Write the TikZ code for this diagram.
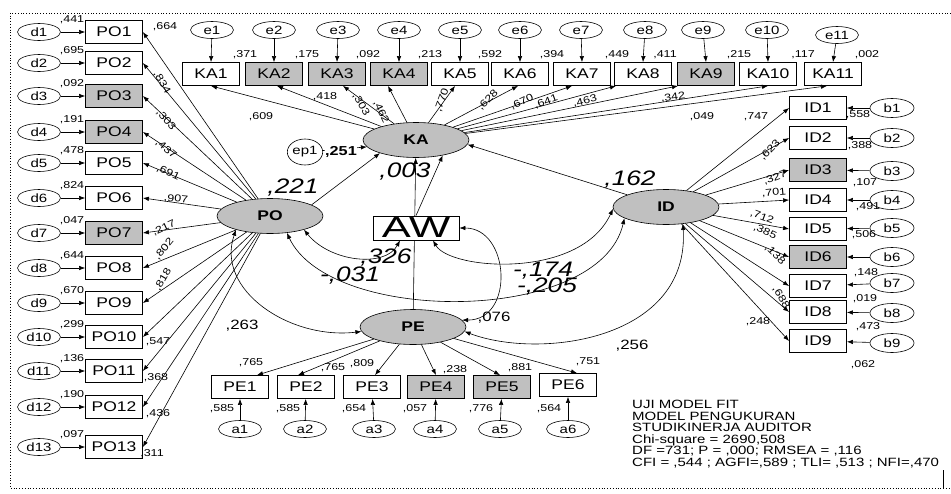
\documentclass[tikz,border=0pt]{standalone}
\usepackage{fontspec}
\setmainfont{Liberation Sans}[FakeStretch=1.25]
\newfontfamily\widefont{Liberation Sans}[FakeStretch=1.5]
\usetikzlibrary{arrows.meta,shapes.geometric}
\definecolor{shade}{RGB}{192,192,192}
\begin{document}
\begin{tikzpicture}[x=1pt,y=-1pt,
  box/.style={draw, line width=0.8pt, minimum width=57pt, minimum height=23pt, inner sep=0pt, font=\fontsize{14}{14}\selectfont},
  err/.style={draw, ellipse, line width=0.6pt, minimum width=43pt, minimum height=17pt, inner sep=0pt, font=\fontsize{12}{12}\selectfont},
  lat/.style={draw, ellipse, line width=0.6pt, fill=shade, minimum width=106pt, minimum height=35pt, inner sep=0pt, font=\bfseries\fontsize{14}{14}\selectfont},
  lab/.style={inner sep=0pt, font=\fontsize{10}{10}\selectfont},
  mid/.style={inner sep=0pt, font=\fontsize{13.5}{13.5}\selectfont},
  big/.style={inner sep=0pt, font=\itshape\fontsize{21}{21}\selectfont},
  arr/.style={-{Latex[length=6pt,width=4.5pt]}, line width=0.6pt},
  dbl/.style={{Latex[length=6pt,width=4.5pt]}-{Latex[length=6pt,width=4.5pt]}, line width=0.6pt}]
\useasboundingbox (0,0) rectangle (951,493);
\fill[white] (0,0) rectangle (951,493);

% frame
\draw[dotted, line width=0.8pt] (951,13) -- (10,13) -- (10,488) -- (951,488);
\coordinate (fa) at (943,470);
\coordinate (fb) at (943,488);
\draw[line width=0.8pt] (fa) -- (fb);

% latent variables
\node[lat] (PO) at (270,216) {PO};
\node[lat] (KA) at (416,140) {KA};
\node[lat] (ID) at (666,207) {ID};
\node[lat] (PE) at (413,327) {PE};

% PO indicators
\foreach \i/\y/\r/\f in {1/32/441/white, 2/63/695/white, 3/96/092/shade, 4/132/191/shade, 5/163/478/white, 6/198/824/white, 7/233/047/shade, 8/268/644/white, 9/303/670/white, 10/337/299/white, 11/371/136/white, 12/407/190/white, 13/447/097/white}
{
  \node[box, fill=\f] (PO\i) at (114,\y) {PO\i};
  \node[err] (d\i) at (39,\y) {d\i};
  \draw[arr] (d\i) -- (PO\i);
  \node[lab] at (72,\y-12) {,\r};
  \draw[arr] (PO) -- (PO\i.east);
}
\foreach \t/\x/\y/\a in {664/165/27/0, 834/162/83/-60, 303/166/120/-50, 437/166/149/-40, 691/168/173/-25, 907/176/199/-5, 217/164/228/25, 802/164/249/50, 818/163/280/60, 547/158/342/0, 368/156/378/0, 436/158/414/0, 311/152/454/0}
  \node[lab, rotate=\a] at (\x,\y) {,\t};

% KA indicators
\foreach \i/\x/\ex/\ey/\r/\lx/\f/\s in {1/211/212/30/371/245/white/0, 2/274/274/30/175/307/shade/3, 3/337/338/30/092/368/shade/6, 4/399/399/30/213/430/shade/-11, 5/460/460/30/592/490/white/-5, 6/520/520/30/394/552/white/-2, 7/582/581/30/449/617/white/-10, 8/643/645/30/411/665/white/-27, 9/706/703/30/215/739/shade/-28, 10/768/767/30/117/803/white/0, 11/833/837/35/002/867/white/-6}
{
  \node[box, fill=\f] (KA\i) at (\x,74) {KA\i};
  \node[err] (e\i) at (\ex,\ey) {e\i};
  \draw[arr] (e\i) -- (KA\i.north);
  \node[lab] at (\lx,55) {,\r};
  \draw[arr] (KA) -- ([xshift=\s pt]KA\i.south);
}
\foreach \t/\x/\y/\a in {609/261/117/0, 418/325/97/0, 303/361/105/-60, 462/381/112/-65, 770/442/100/70, 628/488/100/45, 670/522/102/25, 641/546/102/20, 463/585/101/15, 342/673/97/8, 049/702/117/0}
  \node[lab, rotate=\a] at (\x,\y) {,\t};

% ID indicators
\foreach \i/\y/\by/\r/\rx/\ry/\f in {1/108/108/558/858/115/white, 2/138/138/388/860/146/white, 3/170/171/107/865/183/shade, 4/200/200/491/868/207/white, 5/229/228/506/864/235/white, 6/257/257/148/866/273/shade, 7/286/283/019/865/299/white, 8/312/313/473/868/327/white, 9/341/343/062/863/365/white}
{
  \node[box, fill=\f] (ID\i) at (818,\y) {ID\i};
  \node[err, minimum width=44pt, minimum height=19pt] (b\i) at (892,\by) {b\i};
  \draw[arr] (b\i) -- (ID\i);
  \node[lab] at (\rx,\ry) {,\r};
  \draw[arr] (ID) -- (ID\i.west);
}
\foreach \t/\x/\y/\a in {747/756/117/0, 623/770/150/45, 327/775/178/20, 701/774/193/5, 712/762/217/-20, 385/765/232/-25, 138/775/255/-45, 688/781/298/-60, 248/758/322/0}
  \node[lab, rotate=\a] at (\x,\y) {,\t};

% PE indicators
\foreach \i/\x/\y/\ax/\l/\lx/\ly/\r/\rx/\f/\s in {1/240/387/240/765/251/363/585/222/white/17, 2/306/387/305/765/333/368/585/288/white/-8, 3/372/387/374/809/362/364/654/354/white/3, 4/436/387/435/238/455/370/057/415/shade/0, 5/502/387/500/881/520/368/776/481/shade/-2, 6/568/385/568/751/588/362/564/549/white/9}
{
  \node[box, fill=\f] (PE\i) at (\x,\y) {PE\i};
  \node[err] (a\i) at (\ax,429) {a\i};
  \draw[arr] (a\i) -- (PE\i);
  \node[lab] at (\lx,\ly) {,\l};
  \node[lab] at (\rx,409) {,\r};
  \draw[arr] (PE) -- ([xshift=\s pt]PE\i.north);
}

% structural paths
\draw[arr] (PE) -- (KA);
\node[draw, line width=0.8pt, fill=white, minimum width=86pt, minimum height=24pt, inner sep=0pt, font=\widefont\fontsize{29}{29}\selectfont] (AW) at (416,228) {AW};
\draw[arr] (AW.north) -- (KA.-30);
\draw[arr] (PO.15) -- (KA.200);
\draw[arr] (ID) -- (KA.-5);
\node[err, minimum width=34pt, minimum height=26pt] (ep1) at (305,152) {ep1};
\draw[arr] (ep1) -- (KA.188);
\node[inner sep=0pt, fill=white, font=\bfseries\fontsize{13}{13}\selectfont] at (341,152) {,251};

% correlations
\draw[dbl] (PO.-22) .. controls (330,262) and (385,268) .. ([xshift=-16pt]AW.south);
\draw[dbl] (PO.-45) .. controls (330,325) and (600,325) .. (ID.195);
\draw[dbl] ([xshift=17pt]AW.south) .. controls (450,270) and (580,280) .. (ID.182);
\draw[dbl] (AW.east) .. controls (510,228) and (515,320) .. (PE.8);
\draw[dbl] (PO.-158) .. controls (215,290) and (290,340) .. (PE.185);
\draw[dbl] (PE.-5) .. controls (540,360) and (690,340) .. (ID.-45);

% coefficients
\node[big] at (293,188) {,221};
\node[big] at (405,172) {,003};
\node[big] at (630,180) {,162};
\node[big] at (386,258) {,326};
\node[big] at (350,276) {-,031};
\node[big] at (543,271) {-,174};
\node[big] at (547,287) {-,205};
\node[mid] at (242,326) {,263};
\node[mid] at (494,318) {,076};
\node[mid] at (632,346) {,256};

% fit statistics
\node[anchor=north west, align=left, inner sep=0pt, font=\fontsize{12}{11.5}\selectfont] (fit) at (632,400) {UJI MODEL FIT\\MODEL PENGUKURAN\\STUDIKINERJA AUDITOR\\Chi-square = 2690,508\\DF =731; P = ,000; RMSEA = ,116\\CFI = ,544 ; AGFI=,589 ; TLI= ,513 ; NFI=,470};
\end{tikzpicture}
\end{document}
